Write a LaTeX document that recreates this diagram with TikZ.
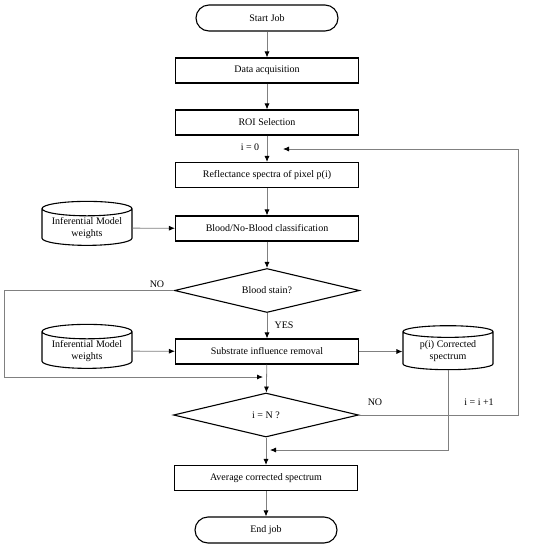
\documentclass[tikz,border=0pt]{standalone}
\usepackage{fontspec}
\setmainfont{Liberation Serif}
\usepackage{tikz}
\usetikzlibrary{positioning,calc,arrows.meta,shapes.geometric}

\tikzset{
  proc/.style={rectangle,draw,line width=1.1pt,minimum width=183pt,minimum height=25pt,anchor=center},
  term/.style={rectangle,draw,line width=1.1pt,rounded corners=13pt,minimum width=142pt,minimum height=26pt},
  decide/.style={diamond,draw,line width=1.1pt,aspect=4,inner sep=0pt,minimum width=185pt,minimum height=44pt},
  store/.style={cylinder,draw,line width=1.1pt,shape border rotate=90,aspect=0.2,minimum width=90pt,minimum height=44pt,align=center,inner sep=1pt},
  link/.style={draw=black!50,line width=0.8pt},
  arr/.style={-{Latex[color=black,length=6pt,width=5pt]}},
}

\begin{document}
\begin{tikzpicture}[x=1pt,y=-1pt,font=\fontsize{10}{12}\selectfont]
\useasboundingbox (0,0) rectangle (550,547);
% main column
\node[term] (start) at (267,18) {Start Job};
\node[proc] (acq) at (267,70.5) {Data acquisition};
\node[proc] (roi) at (267,122.5) {ROI Selection};
\node[proc] (refl) at (267,175) {Reflectance spectra of pixel p(i)};
\node[proc] (cls) at (267,228.5) {Blood/No-Blood classification};
\node[decide] (stain) at (267,290.5) {Blood stain?};
\node[proc] (sub) at (267,351.5) {Substrate influence removal};
\node[decide] (check) at (266,415) {i = N ?};
\node[proc] (avg) at (266,478) {Average corrected spectrum};
\node[term] (stop) at (266,530) {End job};
% side stores
\node[store] (wts1) at (87,228) {Inferential Model\\weights};
\node[store] (wts2) at (87,351) {Inferential Model\\weights};
\node[store] (corr) at (448,351.5) {p(i) Corrected\\spectrum};
% bends
\coordinate (nol) at (4,377);
\coordinate (j1) at (263,377);
\coordinate (rt) at (518,149);
\coordinate (j0) at (283,149);
\coordinate (j2) at (270,450);

\draw[link,arr] (start) -- (acq);
\draw[link,arr] (acq) -- (roi);
\draw[link,arr] (roi) -- (refl);
\draw[link,arr] (refl) -- (cls);
\draw[link,arr] (cls) -- (stain);
\draw[link,arr] (stain) -- (sub);
\draw[link,arr] (sub) -- (check);
\draw[link,arr] (check) -- (avg);
\draw[link,arr] (avg) -- (stop);
\draw[link,arr] (wts1) -- (cls);
\draw[link,arr] (wts2) -- (sub);
\draw[link,arr] (sub) -- (corr);
\draw[link,arr] (stain.west) -| (nol) -- (j1);
\draw[link,arr] (check.east) -| (rt) -- (j0);
\draw[link,arr] (corr.south) |- (j2);

\node at (250,147) {i = 0};
\node at (157,284) {NO};
\node at (284,325) {YES};
\node at (375,402) {NO};
\node at (479,402) {i = i +1};
\end{tikzpicture}
\end{document}
